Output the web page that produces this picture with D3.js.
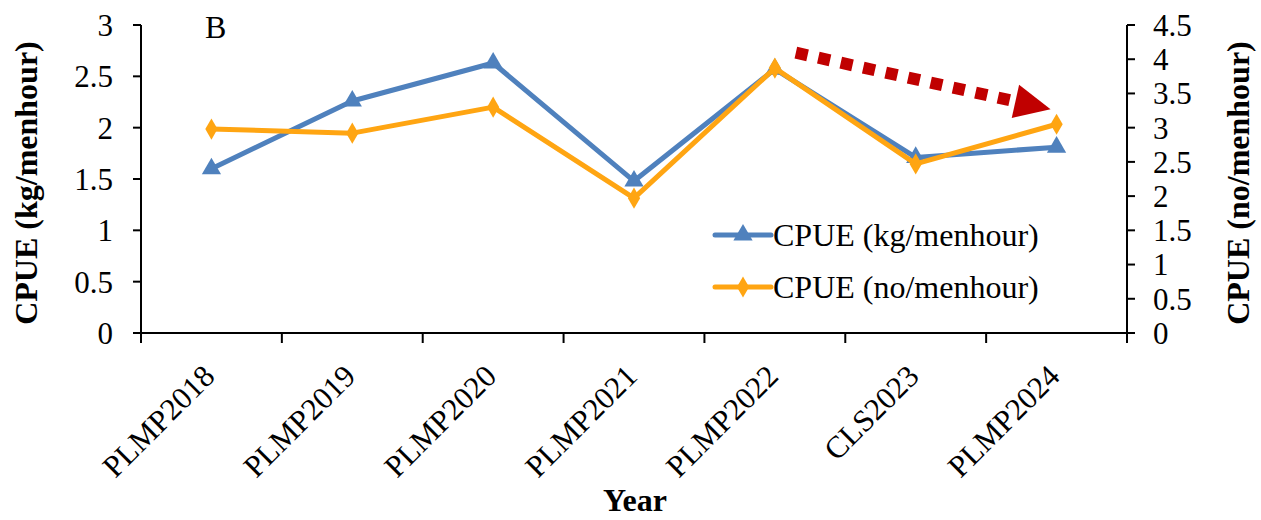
<!DOCTYPE html>
<html><head><meta charset="utf-8">
<script src="https://cdn.jsdelivr.net/npm/d3@7"></script>
<style>body{margin:0;background:#fff}svg{display:block}text{font-family:"Liberation Serif","Times New Roman",serif;fill:#000}</style>
</head><body><svg id="c" width="1261" height="520"></svg>
<script>
const categories = ["PLMP2018","PLMP2019","PLMP2020","PLMP2021","PLMP2022","CLS2023","PLMP2024"];
const kgValues = [1.60, 2.26, 2.63, 1.48, 2.57, 1.71, 1.81];
const noValues = [2.98, 2.92, 3.30, 1.97, 3.87, 2.47, 3.05];
const leftTicks = [0,0.5,1,1.5,2,2.5,3];
const rightTicks = [0,0.5,1,1.5,2,2.5,3,3.5,4,4.5];

const svg = d3.select("#c");
const m = {l:141, r:1127, t:25, b:333};
const x = d3.scaleBand().domain(categories).range([m.l, m.r]);
const yL = d3.scaleLinear().domain([0,3]).range([m.b, m.t]);
const yR = d3.scaleLinear().domain([0,4.5]).range([m.b, m.t]);
const cx = d => x(d) + x.bandwidth()/2;
const FS = 31, TS = 32;
const blue = "#4F81BD", orange = "#FFA512";

// axes
svg.append("line").attr("x1",m.l).attr("x2",m.r).attr("y1",m.b).attr("y2",m.b).attr("stroke","#000").attr("stroke-width",2);
svg.append("line").attr("x1",m.l).attr("x2",m.l).attr("y1",m.t).attr("y2",m.b+10).attr("stroke","#000").attr("stroke-width",2);
svg.append("line").attr("x1",m.r).attr("x2",m.r).attr("y1",m.t).attr("y2",m.b+10).attr("stroke","#000").attr("stroke-width",2);
const bounds = categories.map(c => x(c)).concat([m.r]);
svg.selectAll(".xt").data(bounds).enter().append("line")
  .attr("x1",d=>d).attr("x2",d=>d).attr("y1",m.b).attr("y2",m.b+10).attr("stroke","#000").attr("stroke-width",2);
svg.selectAll(".lt").data(leftTicks).enter().append("line")
  .attr("x1",m.l-8).attr("x2",m.l).attr("y1",d=>yL(d)).attr("y2",d=>yL(d)).attr("stroke","#000").attr("stroke-width",2);
svg.selectAll(".ll").data(leftTicks).enter().append("text")
  .attr("x",m.l-28).attr("y",d=>yL(d)).attr("dy","0.35em").attr("text-anchor","end").attr("font-size",FS).text(d=>d);
svg.selectAll(".rt").data(rightTicks).enter().append("line")
  .attr("x1",m.r).attr("x2",m.r+8).attr("y1",d=>yR(d)).attr("y2",d=>yR(d)).attr("stroke","#000").attr("stroke-width",2);
svg.selectAll(".rl").data(rightTicks).enter().append("text")
  .attr("x",m.r+26).attr("y",d=>yR(d)).attr("dy","0.35em").attr("text-anchor","start").attr("font-size",FS).text(d=>d);
svg.selectAll(".xl").data(categories).enter().append("text")
  .attr("transform",d=>`translate(${cx(d)+5},${m.b+45}) rotate(-45)`)
  .attr("text-anchor","end").attr("font-size",FS).text(d=>d);
// titles
svg.append("text").attr("transform",`translate(37,${(m.t+m.b)/2+4}) rotate(-90)`).attr("text-anchor","middle")
  .attr("font-size",TS).attr("font-weight","bold").text("CPUE (kg/menhour)");
svg.append("text").attr("transform",`translate(1249,${(m.t+m.b)/2+4}) rotate(-90)`).attr("text-anchor","middle")
  .attr("font-size",TS).attr("font-weight","bold").text("CPUE (no/menhour)");
svg.append("text").attr("x",635).attr("y",511).attr("text-anchor","middle").attr("font-size",TS).attr("font-weight","bold").text("Year");
svg.append("text").attr("x",205).attr("y",38).attr("font-size",TS).text("B");

// series
const tri = d3.symbol().type(d3.symbolTriangle).size(160);
const dia = d3.symbol().type(d3.symbolDiamond).size(130);
const lineL = d3.line().x((d,i)=>cx(categories[i])).y(d=>yL(d));
const lineR = d3.line().x((d,i)=>cx(categories[i])).y(d=>yR(d));
svg.append("path").attr("d",lineL(kgValues)).attr("fill","none").attr("stroke",blue).attr("stroke-width",5).attr("stroke-linejoin","round");
svg.selectAll(".tm").data(kgValues).enter().append("path").attr("d",tri)
  .attr("transform",(d,i)=>`translate(${cx(categories[i])},${yL(d)})`).attr("fill",blue);
svg.append("path").attr("d",lineR(noValues)).attr("fill","none").attr("stroke",orange).attr("stroke-width",5).attr("stroke-linejoin","round");
svg.selectAll(".dm").data(noValues).enter().append("path").attr("d",dia)
  .attr("transform",(d,i)=>`translate(${cx(categories[i])},${yR(d)})`).attr("fill",orange);

// arrow annotation (dotted, dark red)
const ax1 = cx("PLMP2022")+21, ay1 = yL(2.73), tx = cx("PLMP2024")-6, ty = yL(2.18);
const dx = tx-ax1, dy = ty-ay1, len = Math.hypot(dx,dy), ux = dx/len, uy = dy/len;
const hl = 36, hw = 17;
const bx = tx-ux*hl, by = ty-uy*hl;
svg.append("line").attr("x1",ax1).attr("y1",ay1).attr("x2",bx).attr("y2",by)
  .attr("stroke","#C00000").attr("stroke-width",12).attr("stroke-dasharray","12 11");
svg.append("path").attr("d",`M${tx},${ty} L${bx-uy*hw},${by+ux*hw} L${bx+uy*hw},${by-ux*hw} Z`).attr("fill","#C00000");

// legend
const lg = svg.append("g");
[[blue,tri,"CPUE (kg/menhour)",235],[orange,dia,"CPUE (no/menhour)",287]].forEach(([c,s,t,y])=>{
  lg.append("line").attr("x1",715).attr("x2",771).attr("y1",y).attr("y2",y).attr("stroke",c).attr("stroke-width",5).attr("stroke-linecap","round");
  lg.append("path").attr("d",s).attr("transform",`translate(743,${y})`).attr("fill",c);
  lg.append("text").attr("x",773).attr("y",y).attr("dy","0.35em").attr("font-size",TS).text(t);
});
</script></body></html>
